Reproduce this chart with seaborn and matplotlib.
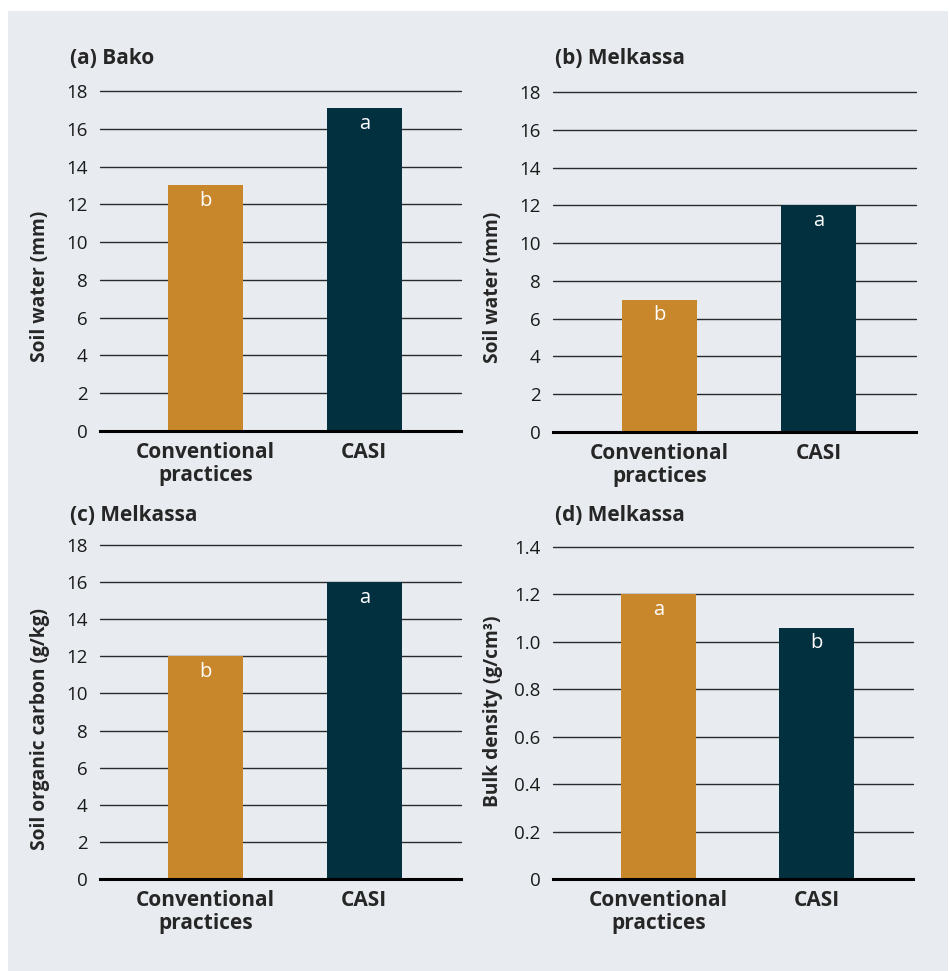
import matplotlib
matplotlib.use("Agg")
import matplotlib.pyplot as plt
import matplotlib.patches as mpatches
import seaborn as sns

# data
categories = ["Conventional\npractices", "CASI"]
bako_water = [13.0, 17.1]
melkassa_water = [7.0, 12.0]
melkassa_soc = [12.0, 16.0]
melkassa_bd = [1.20, 1.06]
letters_a = ["b", "a"]
letters_b = ["b", "a"]
letters_c = ["b", "a"]
letters_d = ["a", "b"]
titles = ["(a) Bako", "(b) Melkassa", "(c) Melkassa", "(d) Melkassa"]
ylabels = ["Soil water (mm)", "Soil water (mm)",
           "Soil organic carbon (g/kg)", "Bulk density (g/cm\u00b3)"]
ticks_water = [0, 2, 4, 6, 8, 10, 12, 14, 16, 18]
ticks_bd = [0, 0.2, 0.4, 0.6, 0.8, 1.0, 1.2, 1.4]
ticklabels_bd = ["0", "0.2", "0.4", "0.6", "0.8", "1.0", "1.2", "1.4"]

colors = ["#C8872A", "#03303F"]
bg = "#E8ECF0"

sns.set_style("white")
plt.rcParams["font.family"] = ["Open Sans", "DejaVu Sans"]

W, H = 949, 971
fig = plt.figure(figsize=(W / 100, H / 100), dpi=100, facecolor="white")
fig.patches.append(mpatches.Rectangle((8 / W, 0), 940 / W, 1 - 11 / H,
                                      transform=fig.transFigure,
                                      facecolor=bg, edgecolor="none", zorder=-10))

# pixel boxes: left, right, top, bottom
boxes = [(100, 461, 91, 431), (553, 916, 92, 432),
         (100, 461, 545, 879), (553, 913, 547, 879)]
title_pos = [(70, 64), (555, 64), (70, 521), (555, 521)]
label_y = [0.424, 0.424, 0.45, 0.506]

panels = [
    (bako_water, letters_a, ticks_water, [str(t) for t in ticks_water], 18),
    (melkassa_water, letters_b, ticks_water, [str(t) for t in ticks_water], 18),
    (melkassa_soc, letters_c, ticks_water, [str(t) for t in ticks_water], 18),
    (melkassa_bd, letters_d, ticks_bd, ticklabels_bd, 1.4),
]

for i, (vals, lets, ticks, tlabels, ymax) in enumerate(panels):
    l, r, t, b = boxes[i]
    ax = fig.add_axes([l / W, 1 - b / H, (r - l) / W, (b - t) / H])
    ax.set_facecolor("none")
    sns.barplot(x=categories, y=vals, hue=categories, palette=colors,
                legend=False, width=0.47, saturation=1, ax=ax, zorder=3,
                edgecolor="none", linewidth=0)
    ax.set_xlim(-0.667, 1.61)
    ax.set_ylim(0, ymax)
    ax.set_yticks(ticks)
    ax.set_yticklabels(tlabels)
    ax.yaxis.grid(True, color="#2a2a2a", lw=1.0, zorder=0)
    ax.set_axisbelow(True)
    for g in ax.get_ygridlines():
        g.set_clip_on(False)
    for s in ["top", "right", "left"]:
        ax.spines[s].set_visible(False)
    ax.spines["bottom"].set_linewidth(2.2)
    ax.spines["bottom"].set_color("black")
    ax.spines["bottom"].set_zorder(5)
    ax.tick_params(axis="y", length=0, pad=9, labelsize=13.5, labelcolor="#1a1a1a")
    ax.tick_params(axis="x", length=0, pad=8, labelsize=15)
    for lab in ax.get_xticklabels():
        lab.set_fontweight("bold")
        lab.set_linespacing(1.1)
    ax.set_xlabel("")
    ax.set_ylabel(ylabels[i], fontsize=13.8, fontweight="bold")
    ax.yaxis.set_label_coords(-0.138, label_y[i])
    for j, (v, let) in enumerate(zip(vals, lets)):
        ax.annotate(let, (j, v), xytext=(0, -4), textcoords="offset points",
                    ha="center", va="top", color="white", fontsize=14.5, zorder=6)
    tx, ty = title_pos[i]
    fig.text(tx / W, 1 - ty / H, titles[i], fontsize=15, fontweight="bold",
             ha="left", va="baseline")

fig.savefig("out.png", dpi=100, facecolor="white")
